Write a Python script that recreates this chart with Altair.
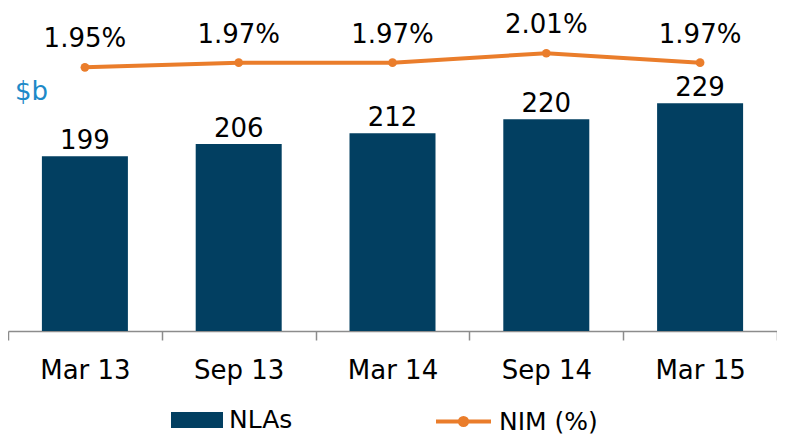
import altair as alt
import pandas as pd

periods = ["Mar 13", "Sep 13", "Mar 14", "Sep 14", "Mar 15"]
nlas = [199, 206, 212, 220, 229]
nim = [1.95, 1.97, 1.97, 2.01, 1.97]
nim_labels = ["1.95%", "1.97%", "1.97%", "2.01%", "1.97%"]
unit_label = ["$b"]

NAVY = "#023F61"
ORANGE = "#EA7D2B"
BLUE = "#1E8AC8"
FONT = "DejaVu Sans"

df = pd.DataFrame({
    "period": periods, "nlas": nlas, "nim": nim, "nim_label": nim_labels,
    "s1": ["NLAs"] * 5, "s2": ["NIM (%)"] * 5,
})

x = alt.X("period:N", sort=periods, title=None,
          scale=alt.Scale(paddingInner=0, paddingOuter=0),
          axis=alt.Axis(labelAngle=0, tickBand="extent", domainColor="#8c8c8c",
                        tickColor="#8c8c8c", tickSize=9, domainWidth=1.5, tickWidth=1.5,
                        labelFontSize=26, labelPadding=17, labelColor="black",
                        labelFont=FONT))

y_bar = alt.Y("nlas:Q", scale=alt.Scale(domain=[100, 283], nice=False, zero=False), axis=None)
y_line = alt.Y("nim:Q", scale=alt.Scale(domain=[0.828, 2.2025], nice=False, zero=False), axis=None)

base = alt.Chart(df)

bar_symbol = "M-1,-0.31H1V0.31H-1Z"
line_symbol = "M-1,0H1M-0.13,0A0.13,0.13 0 1,0 0.13,0A0.13,0.13 0 1,0 -0.13,0"

bars = base.mark_bar(size=86).encode(
    x=x, y=y_bar, y2=alt.datum(100),
    color=alt.Color("s1:N", scale=alt.Scale(domain=["NLAs"], range=[NAVY]),
                    legend=alt.Legend(title=None, orient="none", legendX=163, legendY=386,
                                      symbolType=bar_symbol, symbolSize=2704,
                                      symbolStrokeWidth=0, symbolOpacity=1,
                                      labelFontSize=25, labelFont=FONT, labelColor="black",
                                      labelOffset=6, padding=0)),
)
bar_text = base.mark_text(dy=-7, baseline="alphabetic", fontSize=26, font=FONT, color="black").encode(
    x=x, y=y_bar, text="nlas:Q")

line = base.mark_line(strokeWidth=4, point=alt.OverlayMarkDef(size=75, filled=True, color=ORANGE)).encode(
    x=x, y=y_line,
    color=alt.Color("s2:N", scale=alt.Scale(domain=["NIM (%)"], range=[ORANGE]),
                    legend=alt.Legend(title=None, orient="none", legendX=426, legendY=384,
                                      symbolType=line_symbol, symbolSize=3025,
                                      symbolStrokeWidth=4, symbolStrokeColor=ORANGE,
                                      symbolOpacity=1,
                                      labelFontSize=25, labelFont=FONT, labelColor="black",
                                      labelOffset=6, padding=0)),
)
line_text = base.mark_text(dy=-20, baseline="alphabetic", fontSize=26, font=FONT, color="black").encode(
    x=x, y=y_line, text="nim_label:N")

unit = alt.Chart(pd.DataFrame({"t": unit_label})).mark_text(
    align="left", baseline="alphabetic", fontSize=26, font=FONT, color=BLUE
).encode(x=alt.value(7), y=alt.value(92), text="t:N")

chart = alt.layer(bars, bar_text, line, line_text, unit).resolve_scale(
    y="independent", color="independent"
).resolve_legend(color="independent").properties(
    width=769, height=323,
    autosize=alt.AutoSizeParams(type="none"),
    padding={"left": 0, "top": 0, "right": 0, "bottom": 104},
).configure_view(stroke=None)

chart.save("out.html", embed_options={"renderer": "svg", "actions": False})
